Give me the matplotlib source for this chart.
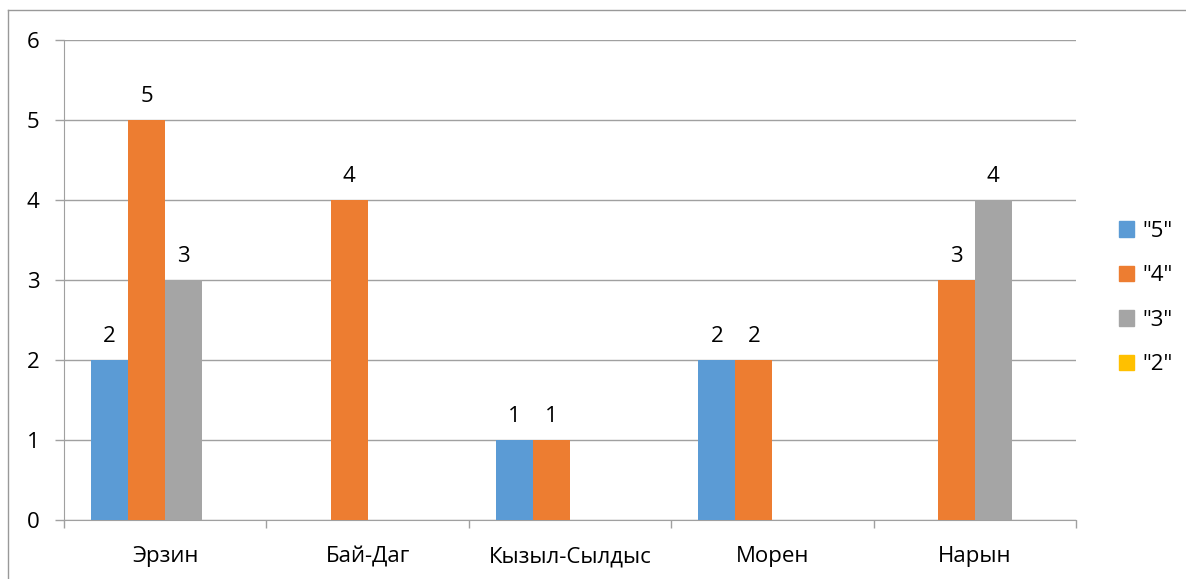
import numpy as np
import matplotlib.pyplot as plt
from matplotlib.lines import Line2D

plt.rcParams['font.family'] = ['Open Sans', 'DejaVu Sans']

categories = ['Эрзин', 'Бай-Даг', 'Кызыл-Сылдыс', 'Морен', 'Нарын']
series_names = ['"5"', '"4"', '"3"', '"2"']
vals_5 = [2, 0, 1, 2, 0]
vals_4 = [5, 4, 1, 2, 3]
vals_3 = [3, 0, 0, 0, 4]
vals_2 = [0, 0, 0, 0, 0]
colors = ['#5B9BD5', '#ED7D31', '#A5A5A5', '#FFC000']

W, H = 1186, 579
fs = 16
fig = plt.figure(figsize=(W / 100, H / 100), dpi=100)
ax = fig.add_axes([64 / W, 1 - 520 / H, (1076 - 64) / W, (520 - 40) / H])

x = np.arange(len(categories))
w = 0.183
grid_c = '#A0A0A0'
for k, (vals, c) in enumerate(zip([vals_5, vals_4, vals_3, vals_2], colors)):
    pos = x + (k - 1.5) * w
    ax.bar(pos, vals, width=w, color=c, label=series_names[k], zorder=3,
           edgecolor='none')
    for p, v in zip(pos, vals):
        if v > 0:
            ax.annotate(str(v), (p, v), xytext=(0, 13), textcoords='offset points',
                        ha='center', va='baseline', fontsize=fs, color='black')

ax.set_xlim(-0.5, 4.5)
ax.set_ylim(0, 6)
ax.set_yticks(range(7))
ax.yaxis.grid(True, color=grid_c, linewidth=1, zorder=0)
ax.tick_params(axis='y', length=6.5, color=grid_c, width=1, pad=11, labelsize=fs)

ax.set_xticks(x)
ax.set_xticklabels(categories)
ax.set_xticks(np.arange(-0.5, 5, 1), minor=True)
ax.tick_params(axis='x', which='major', length=0, pad=19, labelsize=fs)
ax.tick_params(axis='x', which='minor', length=6, color=grid_c, width=1)

for s in ['top', 'right']:
    ax.spines[s].set_visible(False)
ax.spines['left'].set_color(grid_c)
ax.spines['bottom'].set_color(grid_c)

handles = [plt.Rectangle((0, 0), 1, 1, color=c) for c in colors]
fig.legend(handles, series_names, loc='center left',
           bbox_to_anchor=(1119 / W, 1 - 298 / H), frameon=False,
           fontsize=fs, handlelength=0.68, handleheight=0.68,
           handletextpad=0.35, labelspacing=1.06, borderpad=0, borderaxespad=0)

fig.add_artist(Line2D([8 / W, 8 / W], [0, 1 - 10 / H], transform=fig.transFigure,
                      color='#999999', linewidth=1))
fig.add_artist(Line2D([8 / W, 1], [1 - 10 / H, 1 - 10 / H], transform=fig.transFigure,
                      color='#999999', linewidth=1))

fig.savefig('out.png', dpi=100)
